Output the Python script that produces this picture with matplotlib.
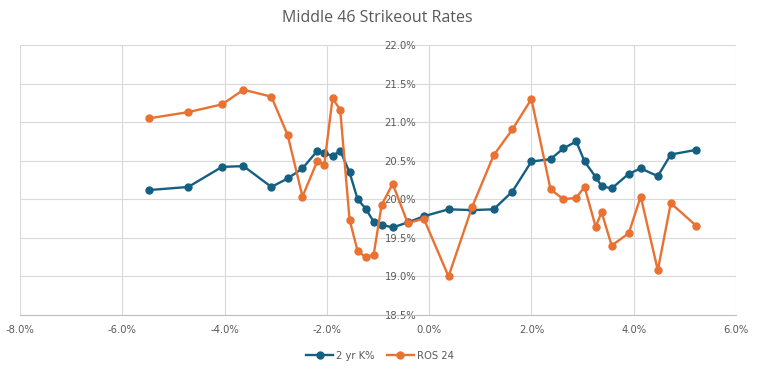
import matplotlib
matplotlib.use("Agg")
import matplotlib.pyplot as plt
from matplotlib import font_manager
from matplotlib.ticker import FuncFormatter, MultipleLocator

# Data (percent units)
x_vals = [-5.47, -4.71, -4.05, -3.63, -3.085, -2.765, -2.477, -2.183, -2.05, -1.889,
          -1.739, -1.556, -1.399, -1.242, -1.085, -0.928, -0.712, -0.418, -0.105,
          0.379, 0.843, 1.261, 1.627, 2.0, 2.373, 2.627, 2.876, 3.039, 3.255, 3.373,
          3.569, 3.902, 4.137, 4.471, 4.725, 5.216]
k2yr = [20.12, 20.16, 20.42, 20.43, 20.16, 20.27, 20.40, 20.63, 20.60, 20.56,
        20.63, 20.35, 20.00, 19.88, 19.71, 19.67, 19.635, 19.70, 19.78,
        19.87, 19.86, 19.87, 20.10, 20.49, 20.52, 20.66, 20.75, 20.49, 20.29, 20.17,
        20.14, 20.33, 20.40, 20.30, 20.58, 20.64]
ros24 = [21.05, 21.13, 21.23, 21.42, 21.33, 20.83, 20.035, 20.50, 20.45, 21.31,
         21.16, 19.735, 19.33, 19.25, 19.28, 19.93, 20.20, 19.69, 19.75,
         19.00, 19.905, 20.57, 20.905, 21.30, 20.13, 20.00, 20.02, 20.16, 19.645, 19.83,
         19.40, 19.56, 20.035, 19.08, 19.95, 19.66]

title = "Middle 46 Strikeout Rates"
series_names = ["2 yr K%", "ROS 24"]
colors = ["#156082", "#E97132"]

# pick a narrow font if one is installed
cands = []
for f in font_manager.fontManager.ttflist:
    st = f.stretch if isinstance(f.stretch, str) else str(f.stretch)
    if f.style == "normal" and f.weight in (400, "normal", "regular") and \
            ("condensed" in st or "Narrow" in f.name or "Condensed" in f.name or "Narrow" in f.fname):
        cands.append(f)
chosen = None
for p in ["Liberation Sans Narrow", "DejaVu Sans"]:
    for f in cands:
        if f.name == p:
            chosen = f
            break
    if chosen:
        break
if chosen is None and cands:
    chosen = cands[0]
tick_fp = dict(fname=chosen.fname) if chosen is not None else dict(family="DejaVu Sans")

FS = 8

fig = plt.figure(figsize=(7.57, 3.82), dpi=100)
ax = fig.add_axes([20/757, 1-315/382, (736-20)/757, (315-45)/382])

ax.plot(x_vals, k2yr, color=colors[0], lw=1.7, marker="o", ms=5, label=series_names[0], zorder=3)
ax.plot(x_vals, ros24, color=colors[1], lw=1.7, marker="o", ms=5, label=series_names[1], zorder=3)

ax.set_xlim(-8, 6)
ax.set_ylim(18.5, 22.0)
ax.xaxis.set_major_locator(MultipleLocator(2))
ax.yaxis.set_major_locator(MultipleLocator(0.5))
ax.xaxis.set_major_formatter(FuncFormatter(lambda v, p: f"{v:.1f}%"))
ax.yaxis.set_major_formatter(FuncFormatter(lambda v, p: f"{v:.1f}%"))
ax.grid(True, color="#d9d9d9", lw=0.8, zorder=0)
ax.set_axisbelow(True)

ax.spines['left'].set_position(('data', 0))
ax.spines['left'].set_color("#d9d9d9")
ax.spines['right'].set_visible(False)
ax.spines['top'].set_visible(False)
ax.spines['bottom'].set_color("#bfbfbf")

ax.tick_params(axis='both', length=0, colors="#595959")
ax.tick_params(axis='y', pad=9.3)
ax.tick_params(axis='x', pad=7)
tick_prop = font_manager.FontProperties(size=FS, **tick_fp)
for lbl in ax.get_xticklabels() + ax.get_yticklabels():
    lbl.set_fontproperties(tick_prop)

fig.text(377/757, 1-18/382, title, ha="center", va="center", fontsize=11.5,
         color="#595959", family=["Open Sans", "DejaVu Sans"])

leg = fig.legend(loc="center", bbox_to_anchor=(380/757, 1-356/382), ncol=2, frameon=False,
                 handlelength=2.4, columnspacing=1.1, handletextpad=0.3,
                 prop=font_manager.FontProperties(size=FS, **tick_fp))
for t in leg.get_texts():
    t.set_color("#595959")

fig.savefig("out.png", dpi=100)
